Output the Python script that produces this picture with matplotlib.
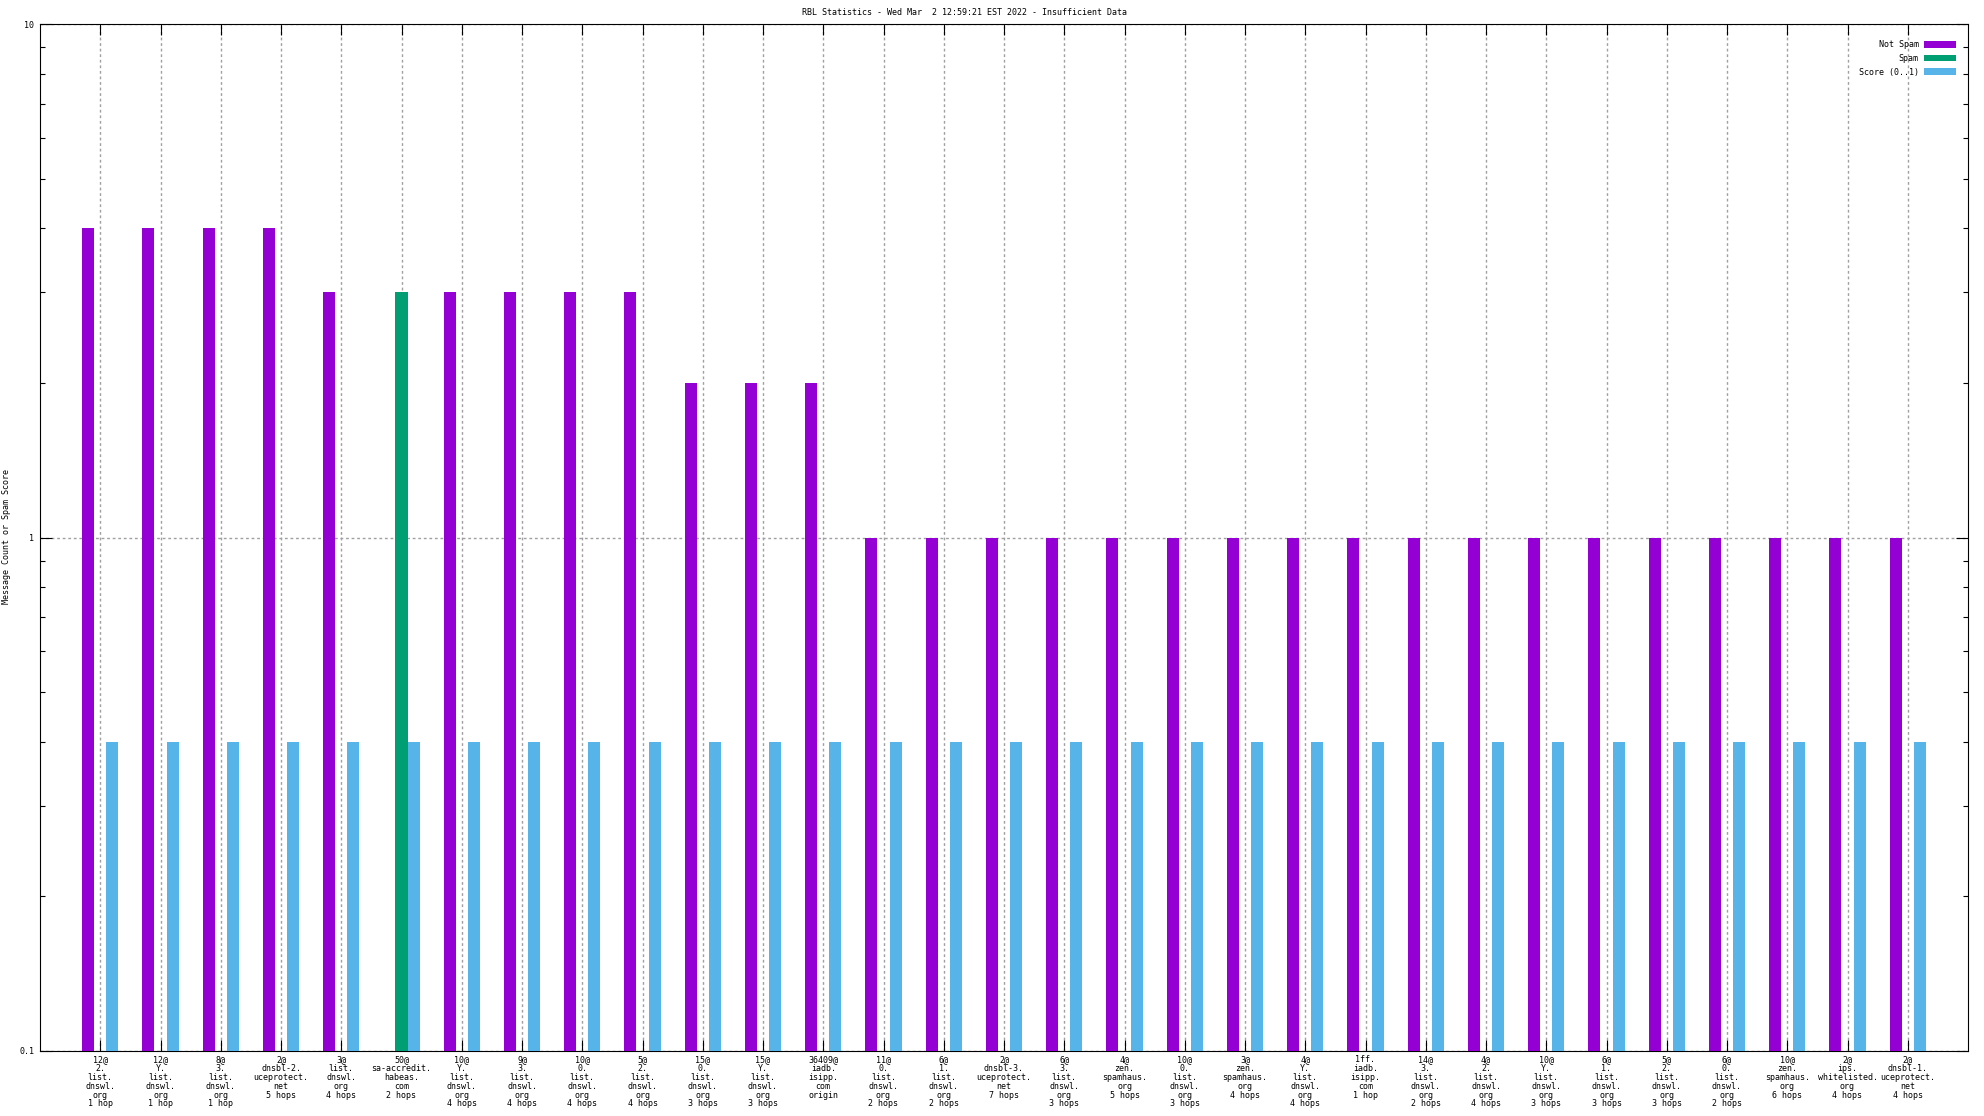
import matplotlib
matplotlib.use("Agg")
import matplotlib.pyplot as plt
import numpy as np
from matplotlib.ticker import LogLocator, FixedLocator, FixedFormatter, NullFormatter

categories = [
    "12@\n2.\nlist.\ndnswl.\norg\n1 hop",
    "12@\nY.\nlist.\ndnswl.\norg\n1 hop",
    "8@\n3.\nlist.\ndnswl.\norg\n1 hop",
    "2@\ndnsbl-2.\nuceprotect.\nnet\n5 hops",
    "3@\nlist.\ndnswl.\norg\n4 hops",
    "50@\nsa-accredit.\nhabeas.\ncom\n2 hops",
    "10@\nY.\nlist.\ndnswl.\norg\n4 hops",
    "9@\n3.\nlist.\ndnswl.\norg\n4 hops",
    "10@\n0.\nlist.\ndnswl.\norg\n4 hops",
    "5@\n2.\nlist.\ndnswl.\norg\n4 hops",
    "15@\n0.\nlist.\ndnswl.\norg\n3 hops",
    "15@\nY.\nlist.\ndnswl.\norg\n3 hops",
    "36409@\niadb.\nisipp.\ncom\norigin",
    "11@\n0.\nlist.\ndnswl.\norg\n2 hops",
    "6@\n1.\nlist.\ndnswl.\norg\n2 hops",
    "2@\ndnsbl-3.\nuceprotect.\nnet\n7 hops",
    "6@\n3.\nlist.\ndnswl.\norg\n3 hops",
    "4@\nzen.\nspamhaus.\norg\n5 hops",
    "10@\n0.\nlist.\ndnswl.\norg\n3 hops",
    "3@\nzen.\nspamhaus.\norg\n4 hops",
    "4@\nY.\nlist.\ndnswl.\norg\n4 hops",
    "1ff.\niadb.\nisipp.\ncom\n1 hop",
    "14@\n3.\nlist.\ndnswl.\norg\n2 hops",
    "4@\n2.\nlist.\ndnswl.\norg\n4 hops",
    "10@\nY.\nlist.\ndnswl.\norg\n3 hops",
    "6@\n1.\nlist.\ndnswl.\norg\n3 hops",
    "5@\n2.\nlist.\ndnswl.\norg\n3 hops",
    "6@\n0.\nlist.\ndnswl.\norg\n2 hops",
    "10@\nzen.\nspamhaus.\norg\n6 hops",
    "2@\nips.\nwhitelisted.\norg\n4 hops",
    "2@\ndnsbl-1.\nuceprotect.\nnet\n4 hops",
]

not_spam = [4, 4, 4, 4, 3, 0, 3, 3, 3, 3, 2, 2, 2,
            1, 1, 1, 1, 1, 1, 1, 1, 1, 1, 1, 1, 1, 1, 1, 1, 1, 1]
spam = [0, 0, 0, 0, 0, 3, 0, 0, 0, 0, 0, 0, 0,
        0, 0, 0, 0, 0, 0, 0, 0, 0, 0, 0, 0, 0, 0, 0, 0, 0, 0]
score = [0.4] * 31

series_names = ["Not Spam", "Spam", "Score (0..1)"]
colors = ["#9400D3", "#009E73", "#56B4E9"]

title = "RBL Statistics - Wed Mar  2 12:59:21 EST 2022 - Insufficient Data"
ylabel = "Message Count or Spam Score"

FONT = "DejaVu Sans Mono"
FS = 6

fig = plt.figure(figsize=(19.84, 11.16), dpi=100)
ax = fig.add_axes([40 / 1984, 1 - 1051 / 1116, (1968 - 40) / 1984, (1051 - 24) / 1116])

x = np.arange(len(categories))
w = 0.2
handles = []
for off, vals, c, name in zip([-0.2, 0.0, 0.2], [not_spam, spam, score], colors, series_names):
    v = np.array(vals, dtype=float)
    v = np.where(v > 0, v, np.nan)
    h = ax.bar(x + off, v, width=w, color=c, label=name, zorder=3, linewidth=0)
    handles.append(h)

ax.set_yscale("log")
ax.set_ylim(0.1, 10)
ax.set_xlim(-1, len(categories))

ax.set_axisbelow(True)
ax.xaxis.set_major_locator(FixedLocator(x))
ax.set_xticklabels(categories, fontsize=FS, family=FONT, linespacing=0.98)
ax.yaxis.set_major_locator(FixedLocator([0.1, 1, 10]))
ax.yaxis.set_major_formatter(FixedFormatter(["0.1", "1", "10"]))
ax.yaxis.set_minor_locator(LogLocator(base=10, subs=np.arange(2, 10)))
ax.yaxis.set_minor_formatter(NullFormatter())
for lab in ax.get_yticklabels():
    lab.set_fontsize(FS)
    lab.set_family(FONT)

ax.tick_params(axis="x", which="major", direction="in", length=8, width=0.8,
               top=True, bottom=True, pad=3)
ax.tick_params(axis="y", which="major", direction="in", length=8.6, width=0.8,
               left=True, right=True, pad=4.3)
ax.tick_params(axis="y", which="minor", direction="in", length=3.8, width=0.8,
               left=True, right=True)

ax.grid(True, which="major", axis="both", color="#a0a0a0", linestyle=(0, (2.0, 2.0)),
        linewidth=1.0)
for s in ax.spines.values():
    s.set_linewidth(0.8)
    s.set_color("black")

fig.text(7 / 1984, 1 - 537 / 1116, ylabel, rotation=90, ha="center", va="center",
         fontsize=FS, family=FONT)

fig.text(965 / 1984, 1 - 12.5 / 1116, title, ha="center", va="center",
         fontsize=FS, family=FONT)

leg = ax.legend(handles=handles, loc="upper right", markerfirst=False, frameon=False,
                prop={"family": FONT, "size": FS}, handlelength=3.85, handleheight=0.85,
                labelspacing=0.55, handletextpad=0.6, borderaxespad=0.0,
                bbox_to_anchor=((1959 - 40) / 1928, 1 - (37 - 24) / 1027))

fig.savefig("out.png", dpi=100)
